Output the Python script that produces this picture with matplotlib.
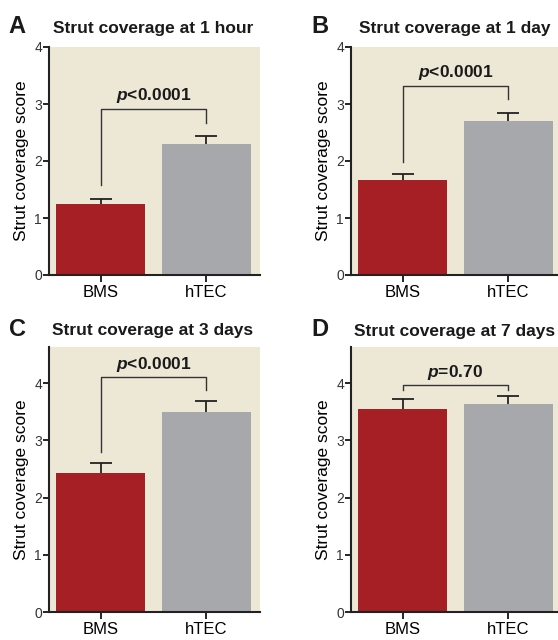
import numpy as np
import matplotlib
matplotlib.use("Agg")
import matplotlib.pyplot as plt

plt.rcParams['font.family'] = ['Liberation Sans', 'DejaVu Sans']
plt.rcParams['mathtext.fontset'] = 'custom'
plt.rcParams['mathtext.bfit'] = 'Liberation Sans:italic:bold'
plt.rcParams['mathtext.it'] = 'Liberation Sans:italic'

groups = ["BMS", "hTEC"]
panels = ["A", "B", "C", "D"]
titles = ["Strut coverage at 1 hour", "Strut coverage at 1 day",
          "Strut coverage at 3 days", "Strut coverage at 7 days"]
means = [[1.25, 2.30], [1.67, 2.70], [2.43, 3.50], [3.55, 3.63]]
sems = [[0.08, 0.14], [0.10, 0.14], [0.17, 0.18], [0.17, 0.14]]
p_labels = ["<0.0001", "<0.0001", "<0.0001", "=0.70"]
# bracket: left leg bottom, top, right leg bottom
brackets = [[1.58, 2.92, 2.66], [1.99, 3.32, 3.09], [2.79, 4.10, 3.87], [3.87, 3.96, 3.87]]
ytops = [4, 4, 4.63, 4.63]

W, H = 558, 640
fig = plt.figure(figsize=(W / 100, H / 100), dpi=100)

red = "#A61F24"
grey = "#A7A8AC"
bg = "#EDE8D6"

# axes boxes in pixels: left, top, right, bottom
boxes = [(49, 47, 260, 275), (351, 47, 562, 275),
         (49, 347, 260, 612), (351, 347, 562, 612)]
letter_pos = [(17, 33), (320, 33), (17, 336), (320, 336)]
title_pos = [(153, 33), (455, 33), (153, 335), (455, 336)]

for i in range(4):
    l, t, r, b = boxes[i]
    ax = fig.add_axes([l / W, 1 - b / H, (r - l) / W, (b - t) / H])
    ax.set_facecolor(bg)
    x = np.arange(2)
    ax.errorbar(x, means[i], yerr=sems[i], fmt="none", ecolor="#222222",
                elinewidth=1.3, capsize=8, capthick=1.3, zorder=1)
    ax.bar(x, means[i], width=0.84, color=[red, grey], zorder=2)
    ax.set_xlim(-0.49, 1.51)
    ax.set_ylim(0, ytops[i])
    ax.set_yticks([0, 1, 2, 3, 4])
    ax.set_xticks(x)
    ax.set_xticklabels(groups, fontsize=12)
    ax.tick_params(axis="y", labelsize=10, length=4, width=1.2, pad=1, labelcolor="#333333")
    ax.tick_params(axis="x", length=5, width=1.2, pad=2)
    for s in ["top", "right"]:
        ax.spines[s].set_visible(False)
    for s in ["left", "bottom"]:
        ax.spines[s].set_linewidth(1.5)
        ax.spines[s].set_color("#222222")
    ax.set_ylabel("Strut coverage score", fontsize=12.5, labelpad=4)
    lb, top, rb = brackets[i]
    ax.plot([0, 0, 1, 1], [lb, top, top, rb], color="#333333", lw=1.0, zorder=3)
    ax.text(0.5, top + 0.15, "$\\mathbfit{p}$" + p_labels[i], ha="center",
            va="baseline", fontsize=12.5, fontweight="bold", color="#1a1a1a")
    lx, ly = letter_pos[i]
    fig.text(lx / W, 1 - ly / H, panels[i], ha="center", va="baseline",
             fontsize=17, fontweight="bold", color="#1a1a1a")
    tx, ty = title_pos[i]
    fig.text(tx / W, 1 - ty / H, titles[i], ha="center", va="baseline",
             fontsize=12.5, fontweight="bold", color="#1a1a1a")

fig.savefig("out.png", dpi=100)
